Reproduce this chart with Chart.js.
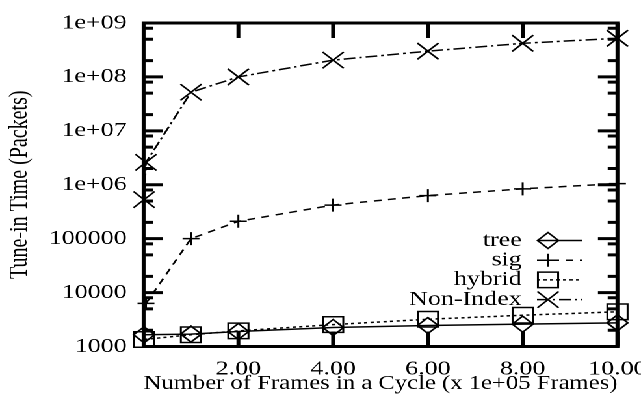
<!DOCTYPE html>
<html><head><meta charset="utf-8">
<script src="https://cdn.jsdelivr.net/npm/chart.js@4/dist/chart.umd.min.js"></script>
<style>
html,body{margin:0;padding:0;background:#fff;overflow:hidden;}
#wrap{position:absolute;left:0;top:0;width:493px;height:396px;transform:scaleX(1.30020);transform-origin:0 0;background:#fff;}
canvas{display:block;}
</style></head><body>
<div id="wrap"><canvas id="c" width="493" height="396"></canvas></div>
<script>
// ---- data (x in units of 1e+05 frames) ----
const seriesNames = ['tree', 'sig', 'hybrid', 'Non-Index'];
const treeX = [0.01, 1, 2, 4, 6, 8, 10];
const treeY = [1650, 1700, 1900, 2250, 2450, 2600, 2750];
const sigX = [0.05, 1, 2, 4, 6, 8, 10];
const sigY = [6300, 100000, 210000, 420000, 630000, 840000, 1050000];
const hybridX = [0.01, 1, 2, 4, 6, 8, 10];
const hybridY = [1350, 1650, 1950, 2550, 3200, 3800, 4400];
const nonIndexX = [0.01, 0.05, 1, 2, 4, 6, 8, 10];
const nonIndexY = [530000, 2600000, 52000000, 100000000, 205000000, 300000000, 420000000, 520000000];
const xTicks = [2, 4, 6, 8, 10];
const xTickLabels = ['2.00', '4.00', '6.00', '8.00', '10.00'];
const yTicks = [1e3, 1e4, 1e5, 1e6, 1e7, 1e8, 1e9];
const yTickLabels = ['1000', '10000', '100000', '1e+06', '1e+07', '1e+08', '1e+09'];
const yMinorMult = [2, 5, 8];
const xLabel = 'Number of Frames in a Cycle (x 1e+05 Frames)';
const yLabel = 'Tune-in Time (Packets)';

const FAMILY = '"Liberation Serif", "Times New Roman", serif';
const FONT = {family: FAMILY, size: 20};
const pts = (xs, ys) => xs.map((x, i) => ({x: x, y: ys[i]}));

const common = {
  borderColor: '#000', borderWidth: 1.5, pointBorderColor: '#000',
  pointBackgroundColor: 'rgba(0,0,0,0)', pointBorderWidth: 1.5,
  tension: 0, clip: false, fill: false
};

const datasets = [
  Object.assign({label: seriesNames[0], data: pts(treeX, treeY), borderDash: [],
    pointStyle: 'rectRot', pointRadius: 8}, common),
  Object.assign({label: seriesNames[1], data: pts(sigX, sigY), borderDash: [6, 5],
    pointStyle: 'cross', pointRadius: 6.5}, common),
  Object.assign({label: seriesNames[2], data: pts(hybridX, hybridY), borderDash: [2.5, 2.5],
    pointStyle: 'rect', pointRadius: 11}, common),
  Object.assign({label: seriesNames[3], data: pts(nonIndexX, nonIndexY), borderDash: [9, 3, 2, 3],
    pointStyle: 'crossRot', pointRadius: 11.5}, common)
];

const framePlugin = {
  id: 'frame',
  afterDatasetsDraw(chart) {
    const {ctx, chartArea: a, scales: {x, y}} = chart;
    ctx.save();
    ctx.strokeStyle = '#000';
    ctx.lineWidth = 3;
    ctx.lineCap = 'butt';
    ctx.setLineDash([]);
    ctx.beginPath();
    for (let d = 3; d < 9; d++) {
      yMinorMult.forEach(m => {
        const py = y.getPixelForValue(m * Math.pow(10, d));
        ctx.moveTo(a.left, py); ctx.lineTo(a.left + 7.5, py);
        ctx.moveTo(a.right, py); ctx.lineTo(a.right - 7.5, py);
      });
    }
    yTicks.forEach(v => {
      const py = y.getPixelForValue(v);
      ctx.moveTo(a.left, py); ctx.lineTo(a.left + 15, py);
      ctx.moveTo(a.right, py); ctx.lineTo(a.right - 15, py);
    });
    xTicks.forEach(v => {
      const px = x.getPixelForValue(v);
      ctx.moveTo(px, a.bottom); ctx.lineTo(px, a.bottom - 15);
      ctx.moveTo(px, a.top); ctx.lineTo(px, a.top + 15);
    });
    ctx.stroke();
    ctx.lineJoin = 'miter';
    ctx.strokeRect(a.left, a.top, a.right - a.left, a.bottom - a.top);
    ctx.restore();
  }
};

const legendRows = [240.5, 260.2, 279.9, 299.6];
const keyPlugin = {
  id: 'key',
  afterDraw(chart) {
    const ctx = chart.ctx;
    ctx.save();
    chart.data.datasets.forEach((ds, i) => {
      const yy = legendRows[i];
      ctx.font = '20px ' + FAMILY;
      ctx.textAlign = 'right';
      ctx.textBaseline = 'middle';
      ctx.fillStyle = '#000';
      ctx.fillText(ds.label, 401.3, yy);
      ctx.strokeStyle = '#000';
      ctx.lineWidth = ds.borderWidth;
      ctx.setLineDash(ds.borderDash || []);
      ctx.beginPath();
      ctx.moveTo(413, yy); ctx.lineTo(447.5, yy);
      ctx.stroke();
      ctx.setLineDash([]);
      ctx.fillStyle = 'rgba(0,0,0,0)';
      ctx.lineWidth = ds.pointBorderWidth;
      Chart.helpers.drawPoint(ctx, {pointStyle: ds.pointStyle, radius: ds.pointRadius,
        borderWidth: ds.pointBorderWidth, rotation: 0}, 421.5, yy);
    });
    ctx.restore();
  }
};

new Chart(document.getElementById('c'), {
  type: 'line',
  data: {datasets: datasets},
  options: {
    responsive: false,
    devicePixelRatio: 2,
    animation: false,
    events: [],
    layout: {padding: {top: 23, right: 18.1, left: 0, bottom: 0}},
    plugins: {legend: {display: false}, tooltip: {enabled: false}},
    scales: {
      x: {
        type: 'linear', min: 0, max: 10,
        grid: {display: false, drawTicks: false},
        border: {display: false},
        ticks: {font: FONT, color: '#000', padding: 10.5, maxRotation: 0, autoSkip: false,
          callback: (v) => { const i = xTicks.indexOf(v); return i >= 0 ? xTickLabels[i] : ''; }},
        afterBuildTicks: (s) => { s.ticks = xTicks.map(v => ({value: v})); },
        afterFit: (s) => { s.height = 49.5; s.paddingLeft = 0; s.paddingRight = 0; },
        title: {display: true, text: xLabel, font: {family: FAMILY, size: 20.5}, color: '#000', padding: {top: 0, bottom: 0}}
      },
      y: {
        type: 'logarithmic', min: 1000, max: 1e9,
        grid: {display: false, drawTicks: false},
        border: {display: false},
        ticks: {font: FONT, color: '#000', padding: 13, autoSkip: false,
          callback: (v) => { const i = yTicks.indexOf(v); return i >= 0 ? yTickLabels[i] : ''; }},
        afterBuildTicks: (s) => { s.ticks = yTicks.map(v => ({value: v})); },
        afterFit: (s) => { s.width = 110.45; s.paddingTop = 0; s.paddingBottom = 0; },
        title: {display: true, text: yLabel, font: FONT, color: '#000', padding: {top: 3, bottom: 0}}
      }
    }
  },
  plugins: [framePlugin, keyPlugin]
});
</script>
</body></html>
